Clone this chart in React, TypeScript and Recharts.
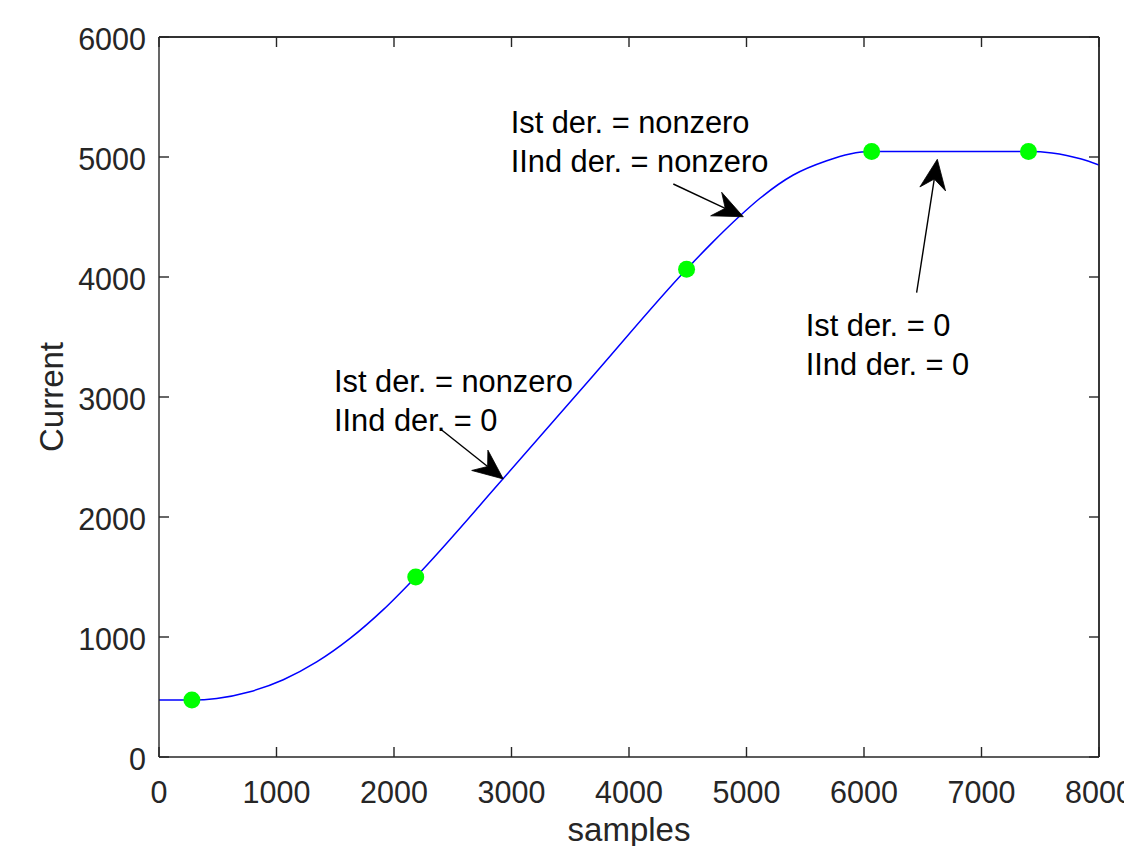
import React from 'react';
import { ComposedChart, Line, XAxis, YAxis, ReferenceDot, ReferenceLine } from 'recharts';

// ---- data ----
const curveX = [0, 280, 491, 774, 1058, 1342, 1626, 1909, 2185, 2930, 3700, 4490, 4700, 4945, 5115, 5398, 5683, 5880, 6065, 7400, 7600, 7725, 7850, 8000];
const curveY = [475, 475, 488, 544, 644, 792, 988, 1228, 1500, 2320, 3184, 4065, 4278, 4510, 4656, 4850, 4969, 5025, 5045, 5045, 5033, 5013, 4983, 4933];
const markerX = [280, 2185, 4490, 6065, 7400];
const markerY = [475, 1500, 4065, 5045, 5045];
const xTicks = [0, 1000, 2000, 3000, 4000, 5000, 6000, 7000, 8000];
const yTicks = [0, 1000, 2000, 3000, 4000, 5000, 6000];

const noteTexts = [
  ['Ist der. = nonzero', 'IInd der. = nonzero'],
  ['Ist der. = nonzero', 'IInd der. = 0'],
  ['Ist der. = 0', 'IInd der. = 0'],
];
const noteX = [2993, 1489, 5504];
const noteY = [5203, 3039, 3508];

const arrowTailX = [4377, 2406, 6448];
const arrowTailY = [4775, 2725, 3869];
const arrowTipX = [4973, 2930, 6624];
const arrowTipY = [4502, 2317, 4981];

const curveData = curveX.map((x, i) => ({ x, y: curveY[i] }));
const markerData = markerX.map((x, i) => ({ x, y: markerY[i] }));

const AXIS = '#262626';
const FONT = '"Liberation Sans", Arial, Helvetica, sans-serif';
const TL = 10;

const BottomTick = (props: any) => {
  const { x, y, payload } = props;
  return (
    <g>
      <line x1={x} y1={y} x2={x} y2={y - TL} stroke={AXIS} strokeWidth={1.4} />
      <text x={x} y={y + 46} textAnchor="middle" fill={AXIS} fontSize={30.5} fontFamily={FONT}>
        {payload.value}
      </text>
    </g>
  );
};

const LeftTick = (props: any) => {
  const { x, y, payload } = props;
  return (
    <g>
      <line x1={x} y1={y} x2={x + TL} y2={y} stroke={AXIS} strokeWidth={1.4} />
      <text x={x - 13} y={y + 13} textAnchor="end" fill={AXIS} fontSize={30.5} fontFamily={FONT}>
        {payload.value}
      </text>
    </g>
  );
};

const TopTick = (props: any) => {
  const { x, y } = props;
  return <line x1={x} y1={y} x2={x} y2={y + TL} stroke={AXIS} strokeWidth={1.4} />;
};

const RightTick = (props: any) => {
  const { x, y } = props;
  return <line x1={x} y1={y} x2={x - TL} y2={y} stroke={AXIS} strokeWidth={1.4} />;
};

const xLabel = (props: any) => {
  const vb = props.viewBox || { x: 159, y: 757, width: 940, height: 60 };
  return (
    <text x={vb.x + vb.width / 2} y={vb.y + 83.5} textAnchor="middle" fill={AXIS} fontSize={33} fontFamily={FONT}>
      samples
    </text>
  );
};

const yLabel = (props: any) => {
  const vb = props.viewBox || { x: 59, y: 37, width: 100, height: 720 };
  const cx = vb.x + 4;
  const cy = vb.y + vb.height / 2;
  return (
    <text x={cx} y={cy} transform={`rotate(-90, ${cx}, ${cy})`} textAnchor="middle" fill={AXIS} fontSize={33} fontFamily={FONT}>
      Current
    </text>
  );
};

const makeNote = (lines: string[]) => (props: any) => {
  const { cx, cy } = props;
  return (
    <text x={cx} y={cy} fill="#000" fontSize={30.8} fontFamily={FONT}>
      {lines.map((l, i) => (
        <tspan key={i} x={cx} y={cy + i * 39}>
          {l}
        </tspan>
      ))}
    </text>
  );
};

const arrowShape = (props: any) => {
  const { x1, y1, x2, y2 } = props;
  const dx = x2 - x1;
  const dy = y2 - y1;
  const len = Math.hypot(dx, dy) || 1;
  const ux = dx / len;
  const uy = dy / len;
  const px = -uy;
  const py = ux;
  const L = 30;
  const W = 13;
  const N = 20;
  const bx = x2 - ux * L;
  const by = y2 - uy * L;
  const nx = x2 - ux * N;
  const ny = y2 - uy * N;
  const d = `M${x2},${y2} L${bx + px * W},${by + py * W} L${nx},${ny} L${bx - px * W},${by - py * W} Z`;
  return (
    <g>
      <line x1={x1} y1={y1} x2={nx} y2={ny} stroke="#000" strokeWidth={1.4} />
      <path d={d} fill="#000" stroke="#000" strokeWidth={0.8} strokeLinejoin="miter" />
    </g>
  );
};

export default function App() {
  return (
    <div style={{ position: 'absolute', left: 0, top: 0, width: 1124, height: 846, background: '#fff' }}>
      <ComposedChart width={1124} height={846} margin={{ top: 36, right: 24, bottom: 29, left: 59 }}>
        <XAxis
          xAxisId={0}
          type="number"
          dataKey="x"
          domain={[0, 8000]}
          ticks={xTicks}
          interval={0}
          allowDataOverflow
          height={60}
          tickSize={0}
          tickMargin={0}
          tickLine={false}
          axisLine={{ stroke: AXIS, strokeWidth: 1.4 }}
          tick={<BottomTick />}
          label={xLabel}
        />
        <XAxis
          xAxisId="top"
          orientation="top"
          type="number"
          dataKey="x"
          domain={[0, 8000]}
          ticks={xTicks}
          interval={0}
          allowDataOverflow
          height={1}
          tickSize={0}
          tickMargin={0}
          tickLine={false}
          axisLine={{ stroke: AXIS, strokeWidth: 1.4 }}
          tick={<TopTick />}
        />
        <YAxis
          yAxisId={0}
          type="number"
          dataKey="y"
          domain={[0, 6000]}
          ticks={yTicks}
          interval={0}
          allowDataOverflow
          width={100}
          tickSize={0}
          tickMargin={0}
          tickLine={false}
          axisLine={{ stroke: AXIS, strokeWidth: 1.4 }}
          tick={<LeftTick />}
          label={yLabel}
        />
        <YAxis
          yAxisId="right"
          orientation="right"
          type="number"
          dataKey="y"
          domain={[0, 6000]}
          ticks={yTicks}
          interval={0}
          allowDataOverflow
          width={1}
          tickSize={0}
          tickMargin={0}
          tickLine={false}
          axisLine={{ stroke: AXIS, strokeWidth: 1.4 }}
          tick={<RightTick />}
        />
        <ReferenceLine y={6000} stroke={AXIS} strokeWidth={1.4} ifOverflow="visible" />
        <ReferenceLine x={8000} stroke={AXIS} strokeWidth={1.4} ifOverflow="visible" />
        <Line
          data={curveData}
          dataKey="y"
          type="monotone"
          stroke="#0000FF"
          strokeWidth={1.5}
          dot={false}
          activeDot={false}
          isAnimationActive={false}
        />
        <Line
          data={markerData}
          dataKey="y"
          type="linear"
          stroke="none"
          dot={{ r: 8.5, fill: '#00FF00', stroke: '#00FF00', strokeWidth: 0 }}
          activeDot={false}
          isAnimationActive={false}
        />
        {arrowTipX.map((tx, i) => (
          <ReferenceLine
            key={`a${i}`}
            segment={[
              { x: arrowTailX[i], y: arrowTailY[i] },
              { x: tx, y: arrowTipY[i] },
            ]}
            ifOverflow="visible"
            shape={arrowShape}
          />
        ))}
        {noteX.map((nx, i) => (
          <ReferenceDot key={`n${i}`} x={nx} y={noteY[i]} r={0} ifOverflow="visible" shape={makeNote(noteTexts[i])} />
        ))}
      </ComposedChart>
    </div>
  );
}
